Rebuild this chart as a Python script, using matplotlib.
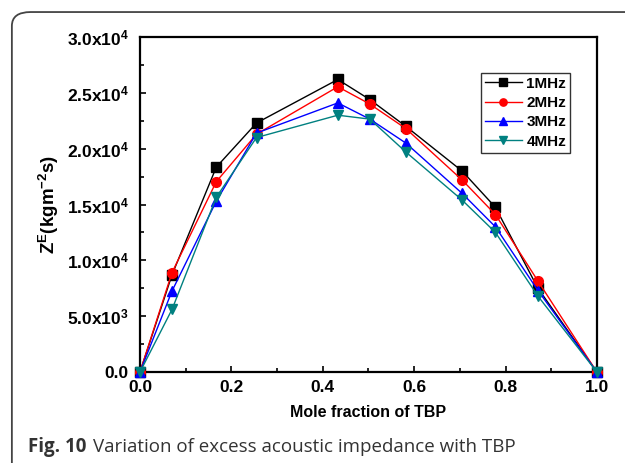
import numpy as np
import matplotlib.pyplot as plt
from matplotlib.patches import FancyBboxPatch
from matplotlib.ticker import MultipleLocator, FuncFormatter

plt.rcParams['font.family'] = ['Liberation Sans', 'DejaVu Sans']
plt.rcParams['mathtext.fontset'] = 'custom'
plt.rcParams['mathtext.rm'] = 'Liberation Sans:bold'
plt.rcParams['mathtext.bf'] = 'Liberation Sans:bold'
plt.rcParams['mathtext.it'] = 'Liberation Sans:bold'

mole_fraction = [0.0, 0.07, 0.167, 0.255, 0.433, 0.503, 0.582, 0.705, 0.778, 0.871, 1.0]

z_1mhz = [0, 8700, 18350, 22300, 26200, 24400, 22000, 18000, 14750, 7500, 0]
z_2mhz = [0, 8900, 17050, 21300, 25550, 24000, 21800, 17200, 14100, 8150, 0]
z_3mhz = [0, 7250, 15300, 21400, 24100, 22650, 20500, 16000, 13000, 7300, 0]
z_4mhz = [0, 5600, 15650, 21000, 23000, 22650, 19700, 15400, 12500, 6800, 0]

series = [("1MHz", z_1mhz, "black", "s"),
          ("2MHz", z_2mhz, "red", "o"),
          ("3MHz", z_3mhz, "blue", "^"),
          ("4MHz", z_4mhz, "#008080", "v")]

fig = plt.figure(figsize=(6.25, 4.63), dpi=100)
ax = fig.add_axes([0.224, 0.1965, 0.731, 0.7235])

for label, vals, color, marker in series:
    ax.plot(mole_fraction, vals, color=color, marker=marker, markersize=7,
            linewidth=1, label=label, clip_on=False, zorder=3)

ax.set_xlim(0, 1.0)
ax.set_ylim(0, 30000)
ax.xaxis.set_major_locator(MultipleLocator(0.2))
ax.xaxis.set_minor_locator(MultipleLocator(0.1))
ax.yaxis.set_major_locator(MultipleLocator(5000))
ax.yaxis.set_minor_locator(MultipleLocator(2500))


def yfmt(v, pos):
    if v <= 0:
        return "0.0"
    exp = int(np.floor(np.log10(v)))
    return "%.1fx10$^{%d}$" % (v / 10 ** exp, exp)


ax.yaxis.set_major_formatter(FuncFormatter(yfmt))
ax.xaxis.set_major_formatter(FuncFormatter(lambda v, p: "%.1f" % v))

ax.tick_params(which='both', direction='in', top=False, right=False,
               labelsize=12.5, width=1.2)
ax.tick_params(which='major', length=4)
ax.tick_params(which='minor', length=3)
ax.tick_params(axis='y', pad=8)
ax.tick_params(axis='x', pad=6)
for lab in ax.get_xticklabels() + ax.get_yticklabels():
    lab.set_fontweight('bold')
for sp in ax.spines.values():
    sp.set_linewidth(1.6)

ax.set_xlabel("Mole fraction of TBP", fontsize=11.5, fontweight='bold', labelpad=7)
ax.set_ylabel("Z$^{E}$(kgm$^{-2}$s)", fontsize=13.5, fontweight='bold', labelpad=4)

leg = ax.legend(loc='upper left', bbox_to_anchor=(0.747, 0.893),
                frameon=True, fancybox=False, edgecolor='black',
                handlelength=2.4, borderpad=0.25, borderaxespad=0,
                labelspacing=0.35, handletextpad=0.3, markerscale=0.75,
                prop={'weight': 'bold', 'size': 11})
leg.get_frame().set_linewidth(1.0)

frame = FancyBboxPatch((0.019, -0.05), 1.1, 1.024,
                       boxstyle="round,pad=0,rounding_size=0.03",
                       transform=fig.transFigure, fill=False,
                       edgecolor='#444444', linewidth=1.3, clip_on=False)
fig.patches.append(frame)

t1 = fig.text(0.045, 0.024, "Fig. 10", fontfamily='Open Sans', fontweight='bold',
              fontsize=13.5, color='#333333')
fig.canvas.draw()
bb = t1.get_window_extent().transformed(fig.transFigure.inverted())
fig.text(bb.x1 + 0.011, 0.024, "Variation of excess acoustic impedance with TBP",
         fontfamily='Open Sans', fontsize=13.5, color='#333333')

fig.savefig("out.png", dpi=100)
